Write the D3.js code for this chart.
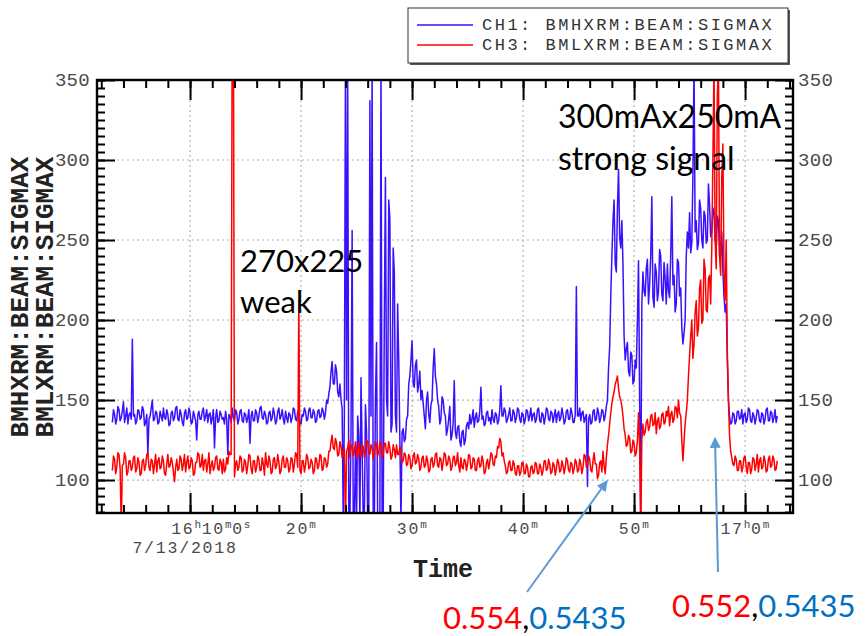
<!DOCTYPE html>
<html>
<head>
<meta charset="utf-8">
<script src="https://cdn.jsdelivr.net/npm/d3@7"></script>
<style>
  body { margin: 0; background: #fff; }
  svg { display: block; }
</style>
</head>
<body>
<svg id="chart" width="866" height="636"></svg>
<script>
// ---- data ---------------------------------------------------------------
// samples are taken every 6 s starting at 16:03:00 on 7/13/2018
const sampleStart = new Date(2018, 6, 13, 16, 3, 0);
const sampleStepSeconds = 6;
const timeDomain = [new Date(2018, 6, 13, 16, 1, 37), new Date(2018, 6, 13, 17, 4, 19)];

const yDomain = [79.4, 350];
const yMajorTicks = [100, 150, 200, 250, 300, 350];
const yGridValues = [100, 150, 200, 250, 300];

const seriesLabels = ["CH1: BMHXRM:BEAM:SIGMAX", "CH3: BMLXRM:BEAM:SIGMAX"];
const axisTitleLines = ["BMHXRM:BEAM:SIGMAX", "BMLXRM:BEAM:SIGMAX"];
const dateLabel = "7/13/2018";
const xTitle = "Time";

// CH1 (BMHXRM:BEAM:SIGMAX)
const ch1Values = [
  136,144,141,135,138,146,144,137,139,143,149,136,140,145,135,141,142,138,188,140,
  141,135,137,144,143,138,139,146,144,134,136,141,116,138,140,145,150,137,138,143,
  142,135,136,143,140,137,145,139,138,144,141,134,135,142,143,137,139,145,146,138,
  137,144,141,136,134,142,144,138,139,145,142,135,136,143,140,137,125,141,143,138,
  138,143,145,137,140,144,136,141,142,135,139,144,120,139,144,136,137,143,141,138,
  139,135,143,138,116,141,140,136,145,139,137,144,142,135,138,143,144,137,136,142,
  141,136,139,144,123,140,143,137,137,144,142,136,140,145,146,139,138,143,141,135,
  136,142,143,137,139,145,141,135,137,143,145,138,140,144,138,135,143,139,136,142,
  141,136,139,145,144,138,137,143,142,136,135,141,140,145,143,137,138,144,145,139,
  139,144,142,136,137,143,144,139,140,145,143,138,142,150,148,154,158,168,174,160,
  160,172,168,155,152,160,150,145,75,140,360,150,360,75,75,130,256,75,75,120,
  75,140,128,75,164,120,75,75,147,130,75,75,337,140,360,75,75,150,186,75,
  75,75,360,75,75,200,289,150,140,275,263,130,135,245,230,140,130,210,175,125,
  75,130,132,124,126,138,140,160,165,175,187,160,158,172,175,155,160,168,150,156,
  148,140,132,150,155,141,136,147,150,170,182,165,160,150,146,135,138,152,150,142,
  140,128,132,138,146,125,128,135,162,130,126,133,134,124,121,130,131,122,125,134,
  136,132,141,135,138,144,133,139,142,136,137,143,158,138,140,134,135,142,143,137,
  139,135,144,138,136,142,141,135,137,144,159,140,140,145,143,136,138,141,145,137,
  137,144,142,136,139,145,144,138,136,142,141,135,138,144,143,137,140,145,137,141,
  142,136,138,144,145,137,136,142,141,135,139,145,144,138,137,143,142,136,140,144,
  136,141,143,137,139,145,141,135,137,143,144,138,138,145,142,136,136,141,221,140,
  140,145,137,142,143,136,139,141,96,138,141,135,136,143,144,137,138,145,142,136,
  139,144,143,137,140,146,150,170,183,215,240,262,275,235,230,270,294,252,245,262,
  235,190,175,182,186,168,165,180,178,160,162,175,170,200,237,150,75,210,230,218,
  215,232,238,210,222,240,277,214,208,235,230,212,218,244,240,216,212,236,226,210,
  235,218,214,240,277,222,228,205,210,238,236,215,220,195,185,192,200,240,255,245,
  267,242,248,290,360,255,262,244,248,275,270,250,245,268,265,248,250,285,272,252,
  255,270,268,250,245,265,262,240,240,255,230,215,205,210,175,150,140,135,136,142,
  141,135,137,143,143,138,139,144,135,141,142,136,138,145,144,137,136,142,140,135,
  139,144,143,137,136,142,141,135,138,144,145,137,137,143,142,136,139,144,136,140
];

// CH3 (BMLXRM:BEAM:SIGMAX)
const ch3Values = [
  106,115,113,104,108,117,116,107,70,109,110,117,114,103,105,112,112,106,108,114,
  115,105,107,114,111,103,104,112,113,106,109,116,117,108,106,113,112,104,110,116,
  105,112,114,107,108,115,112,104,103,110,116,108,109,114,111,105,99,108,113,106,
  107,115,113,106,110,116,105,111,115,107,108,114,112,103,104,111,111,117,116,108,
  109,116,106,112,113,105,110,117,104,109,112,106,108,114,115,107,106,113,111,104,
  113,105,107,114,110,118,116,116,400,400,102,110,112,106,108,115,114,105,106,113,
  111,104,109,116,115,107,104,112,112,105,108,115,113,106,106,114,110,103,117,110,
  108,115,112,104,105,113,114,107,109,116,111,104,106,113,115,108,108,114,112,105,
  107,114,113,105,110,117,116,108,212,106,104,112,112,105,109,116,114,107,108,113,
  111,104,106,114,113,107,109,116,115,106,107,114,113,108,110,118,118,124,128,120,
  119,126,123,115,116,124,121,114,117,120,70,118,120,125,114,121,122,115,117,124,
  119,113,123,116,115,122,121,114,118,125,124,117,116,122,120,113,117,124,122,115,
  118,124,121,114,116,123,123,117,117,124,120,113,115,122,119,114,122,116,116,121,
  118,111,112,117,116,109,110,116,114,107,109,115,117,110,111,116,113,106,108,114,
  115,108,109,115,112,105,106,113,114,108,110,116,117,109,108,114,113,106,111,117,
  116,109,110,115,113,106,108,114,115,109,111,117,109,105,114,108,107,113,112,106,
  110,116,115,107,108,114,113,106,106,112,114,108,109,115,112,104,105,111,113,107,
  111,117,116,110,109,115,114,121,120,126,124,115,117,112,109,104,105,111,112,106,
  106,112,110,104,103,109,109,103,105,111,111,104,104,110,108,102,102,108,109,104,
  105,111,110,104,104,110,108,103,106,112,112,106,107,113,110,104,105,111,109,103,
  107,113,111,105,106,112,109,104,108,114,112,106,105,111,110,104,107,113,111,105,
  106,113,110,104,108,116,115,108,109,115,113,106,105,112,117,110,110,101,103,111,
  112,105,118,109,104,114,122,128,135,142,148,152,155,160,162,165,157,152,150,146,
  140,132,128,121,122,128,126,117,118,125,123,115,117,125,142,120,70,125,135,128,
  130,136,138,131,133,140,141,134,135,142,129,137,139,132,134,141,142,135,136,143,
  140,146,134,141,143,136,138,146,145,139,150,142,140,125,112,124,135,142,150,165,
  178,190,200,176,185,205,212,190,195,220,225,198,200,238,232,206,205,226,228,210,
  245,300,360,250,232,340,360,240,228,290,310,230,212,250,180,150,128,118,114,110,
  109,115,113,106,106,112,112,105,108,114,115,108,104,111,111,104,107,114,113,106,
  110,116,105,112,114,107,108,115,112,105,106,113,115,108,109,115,113,106,107,112
];

// callouts: red part, blue part
const callouts = [
  { red: "0.554", blue: "0.5435" },
  { red: "0.552", blue: "0.5435" }
];
const noteWeak = ["270x225", "weak"];
const noteStrong = ["300mAx250mA", "strong signal"];

// ---- layout -------------------------------------------------------------
const L = 97, R = 793, T = 80, B = 513;
const BLUE = "#3a10ff", RED = "#ff0000";
const MONO = "'Liberation Mono', 'DejaVu Sans Mono', monospace";
const NOTE_FONT = "Lato, 'Open Sans', sans-serif";

const svg = d3.select("#chart");

const x = d3.scaleTime().domain(timeDomain).range([L, R]);
const y = d3.scaleLinear().domain(yDomain).range([B, T]);

const sampleTime = i => d3.timeSecond.offset(sampleStart, i * sampleStepSeconds);

// ---- grid ---------------------------------------------------------------
const xMajor = d3.timeMinute.every(10).range(timeDomain[0], timeDomain[1]);
const xMinor = d3.timeMinute.every(2).range(timeDomain[0], timeDomain[1]);
const yMinor = d3.range(80, 351, 5);

const grid = svg.append("g")
  .attr("stroke", "#b4b4b4").attr("stroke-width", 1.2)
  .attr("stroke-dasharray", "2,3");
grid.selectAll("line.h").data(yGridValues).join("line")
  .attr("x1", L).attr("x2", R)
  .attr("y1", d => y(d)).attr("y2", d => y(d));
grid.selectAll("line.v").data(xMajor).join("line")
  .attr("x1", d => x(d)).attr("x2", d => x(d))
  .attr("y1", T).attr("y2", B);

// ---- series -------------------------------------------------------------
svg.append("clipPath").attr("id", "plotClip")
  .append("rect").attr("x", L).attr("y", T).attr("width", R - L).attr("height", B - T);

const line = d3.line().x((d, i) => x(sampleTime(i))).y(d => y(d));
const plot = svg.append("g").attr("clip-path", "url(#plotClip)");
plot.append("path").datum(ch1Values)
  .attr("fill", "none").attr("stroke", BLUE).attr("stroke-width", 1.5)
  .attr("stroke-linejoin", "round").attr("d", line);
plot.append("path").datum(ch3Values)
  .attr("fill", "none").attr("stroke", RED).attr("stroke-width", 1.5)
  .attr("stroke-linejoin", "round").attr("d", line);

// ---- frame and ticks ----------------------------------------------------
function styleTicks(g) {
  g.select(".domain").remove();
  g.selectAll(".tick line").attr("stroke", "#000").attr("stroke-width", 2);
}
const tickGroups = [
  [d3.axisRight(y).tickValues(yMinor).tickSize(8), `translate(${L},0)`],
  [d3.axisRight(y).tickValues(yMajorTicks).tickSize(18), `translate(${L},0)`],
  [d3.axisLeft(y).tickValues(yMinor).tickSize(8), `translate(${R},0)`],
  [d3.axisLeft(y).tickValues(yMajorTicks).tickSize(18), `translate(${R},0)`],
  [d3.axisTop(x).tickValues(xMinor).tickSize(8), `translate(0,${B})`],
  [d3.axisTop(x).tickValues(xMajor).tickSize(20), `translate(0,${B})`],
  [d3.axisBottom(x).tickValues(xMinor).tickSize(8), `translate(0,${T})`],
  [d3.axisBottom(x).tickValues(xMajor).tickSize(20), `translate(0,${T})`]
];
tickGroups.forEach(([axis, tr]) => {
  svg.append("g").attr("transform", tr)
    .call(axis.tickFormat(""))
    .call(styleTicks);
});
svg.append("rect").attr("x", L).attr("y", T).attr("width", R - L).attr("height", B - T)
  .attr("fill", "none").attr("stroke", "#000").attr("stroke-width", 2.4);

// ---- tick labels --------------------------------------------------------
const yLab = svg.append("g").attr("font-family", MONO).attr("font-size", 19)
  .attr("fill", "#4a4a4a").attr("letter-spacing", 0.3);
yLab.selectAll("text.l").data(yMajorTicks).join("text")
  .attr("x", L - 7).attr("y", d => y(d) + 6).attr("text-anchor", "end").text(d => d);
yLab.selectAll("text.r").data(yMajorTicks).join("text")
  .attr("x", R + 5).attr("y", d => y(d) + 6).attr("text-anchor", "start").text(d => d);

function timeParts(d) {
  const h = d.getHours(), m = d.getMinutes();
  if (m === 0) return [[String(h), false], ["h", true], ["0", false], ["m", true]];
  if (d.getTime() === xMajor[0].getTime())
    return [[String(h), false], ["h", true], [String(m), false], ["m", true], ["0", false], ["s", true]];
  return [[String(m), false], ["m", true]];
}
const xLab = svg.append("g").attr("font-family", MONO).attr("fill", "#4a4a4a")
  .attr("letter-spacing", 1.8);
xMajor.forEach((d, k) => {
  const t = xLab.append("text")
    .attr("x", x(d) + (k === 0 ? 21 : 0)).attr("y", 534)
    .attr("text-anchor", "middle").attr("font-size", 16.5);
  let raised = false;
  timeParts(d).forEach(([s, sup]) => {
    const ts = t.append("tspan").text(s);
    if (sup) { ts.attr("font-size", 11).attr("letter-spacing", 0.5).attr("dy", raised ? 0 : -6); raised = true; }
    else { ts.attr("dy", raised ? 6 : 0); raised = false; }
  });
});
xLab.append("text").attr("x", x(xMajor[0]) - 5).attr("y", 553)
  .attr("text-anchor", "middle").attr("font-size", 16.5).text(dateLabel);

// ---- axis titles --------------------------------------------------------
svg.append("text").attr("x", 413).attr("y", 577)
  .attr("font-family", MONO).attr("font-weight", "bold").attr("font-size", 25)
  .attr("fill", "#222").text(xTitle);

axisTitleLines.forEach((s, k) => {
  svg.append("text")
    .attr("transform", `translate(${28 + k * 25},297) rotate(-90)`)
    .attr("text-anchor", "middle")
    .attr("font-family", MONO).attr("font-weight", "bold").attr("font-size", 26)
    .attr("fill", "#222").text(s);
});

// ---- legend -------------------------------------------------------------
const lg = svg.append("g");
lg.append("rect").attr("x", 410).attr("y", 10).attr("width", 380).attr("height", 55).attr("fill", "#555");
lg.append("rect").attr("x", 408).attr("y", 8).attr("width", 380).attr("height", 55)
  .attr("fill", "#fff").attr("stroke", "#333").attr("stroke-width", 1);
[BLUE, RED].forEach((c, k) => {
  lg.append("line").attr("x1", 417).attr("x2", 473)
    .attr("y1", 25 + k * 20).attr("y2", 25 + k * 20)
    .attr("stroke", c).attr("stroke-width", 1.5);
  lg.append("text").attr("x", 482).attr("y", 30 + k * 20)
    .attr("font-family", MONO).attr("font-size", 17).attr("letter-spacing", 2.5)
    .attr("fill", "#333")
    .text(seriesLabels[k]);
});

// ---- notes --------------------------------------------------------------
const notes = svg.append("g").attr("font-family", NOTE_FONT).attr("font-size", 31).attr("fill", "#000");
noteWeak.forEach((s, k) => notes.append("text").attr("x", 240).attr("y", 272 + k * 41).text(s));
noteStrong.forEach((s, k) => notes.append("text").attr("x", 558).attr("y", 128 + k * 42)
  .attr("font-size", 32).text(s));

// ---- callout arrows -----------------------------------------------------
const ARROW = "#5b9bd5";
svg.append("defs").append("marker").attr("id", "head")
  .attr("viewBox", "0 0 10 10").attr("refX", 9).attr("refY", 5)
  .attr("markerWidth", 5.5).attr("markerHeight", 5.5).attr("orient", "auto")
  .append("path").attr("d", "M0,0 L10,5 L0,10 Z").attr("fill", ARROW);
[[527, 592, 607, 481], [718, 572, 715, 438]].forEach(([x1, y1, x2, y2]) => {
  svg.append("line").attr("x1", x1).attr("y1", y1).attr("x2", x2).attr("y2", y2)
    .attr("stroke", ARROW).attr("stroke-width", 2).attr("marker-end", "url(#head)");
});

const cpos = [[443, 629], [672, 617]];
callouts.forEach((c, k) => {
  const t = svg.append("text").attr("x", cpos[k][0]).attr("y", cpos[k][1])
    .attr("font-family", NOTE_FONT).attr("font-size", 31);
  t.append("tspan").attr("fill", RED).text(c.red);
  t.append("tspan").attr("fill", "#000").text(",");
  t.append("tspan").attr("fill", "#0070c0").text(c.blue);
});
</script>
</body>
</html>
